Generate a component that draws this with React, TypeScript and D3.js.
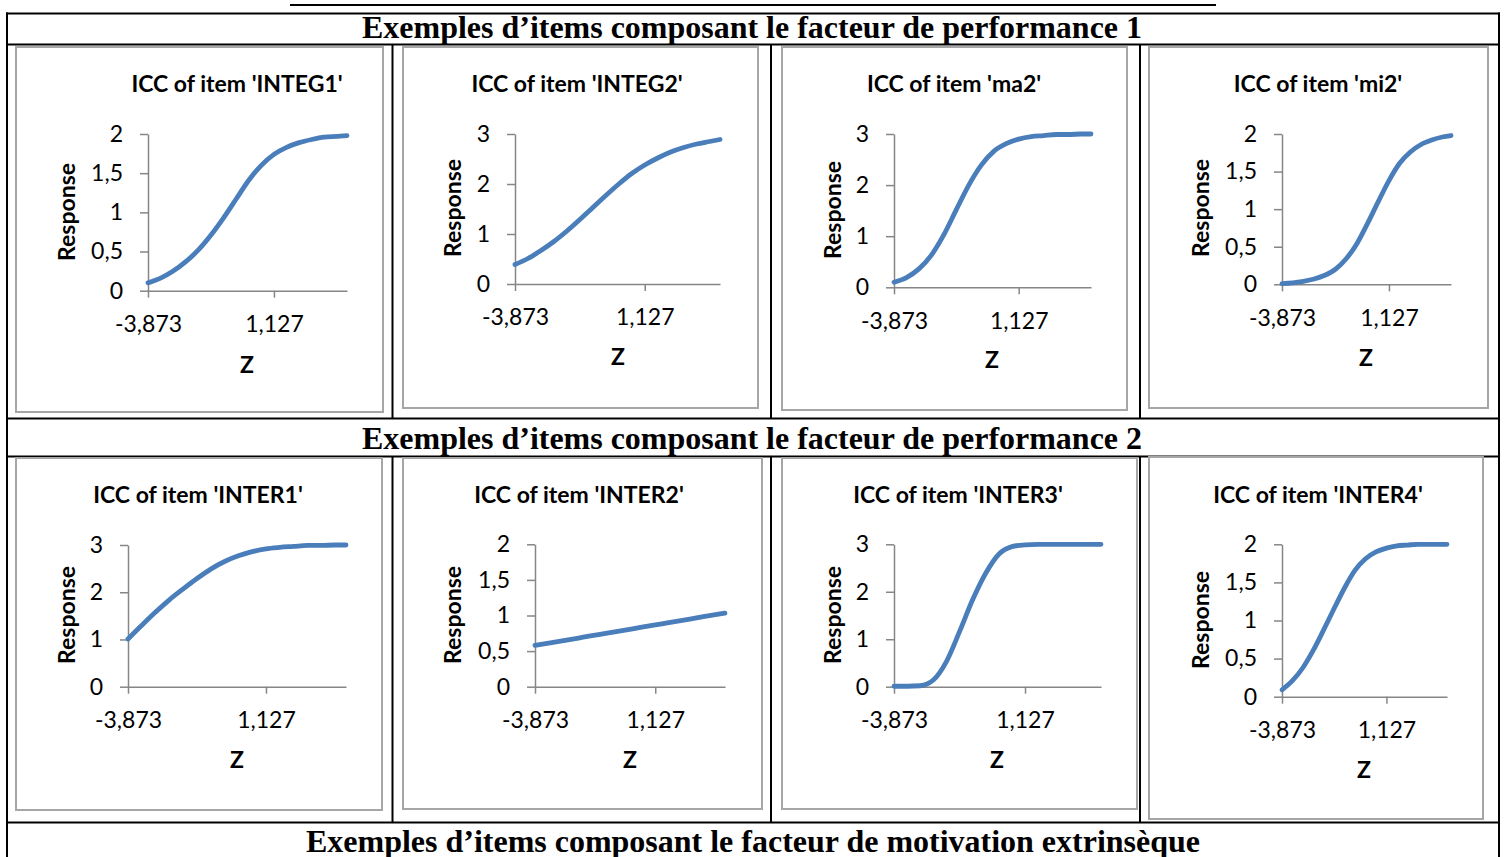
import { useEffect, useRef } from "react";
import * as d3 from "d3";

// z categories (x axis)
const zValues = [-3.873, -3.373, -2.873, -2.373, -1.873, -1.373, -0.873, -0.373, 0.127, 0.627, 1.127, 1.627, 2.127, 2.627, 3.127, 3.627, 4.027];
const xTickValues = [-3.873, 1.127];

// expected responses
const integ1 = [0.10, 0.16, 0.25, 0.37, 0.52, 0.71, 0.93, 1.17, 1.41, 1.60, 1.74, 1.83, 1.89, 1.93, 1.96, 1.97, 1.98];
const integ2 = [0.39, 0.51, 0.67, 0.85, 1.06, 1.29, 1.53, 1.77, 2.00, 2.21, 2.38, 2.52, 2.64, 2.73, 2.80, 2.85, 2.89];
const ma2 = [0.10, 0.19, 0.36, 0.63, 1.03, 1.52, 2.00, 2.39, 2.66, 2.81, 2.90, 2.95, 2.97, 2.99, 2.99, 3.00, 3.00];
const mi2 = [0.01, 0.02, 0.04, 0.07, 0.12, 0.20, 0.34, 0.54, 0.81, 1.10, 1.38, 1.61, 1.76, 1.86, 1.92, 1.96, 1.98];
const inter1 = [1.01, 1.30, 1.58, 1.84, 2.07, 2.29, 2.49, 2.65, 2.77, 2.86, 2.92, 2.95, 2.97, 2.99, 2.99, 3.00, 3.00];
const inter2 = [0.580, 0.609, 0.638, 0.666, 0.695, 0.724, 0.753, 0.781, 0.810, 0.839, 0.868, 0.896, 0.925, 0.954, 0.983, 1.011, 1.034];
const inter3 = [0.01, 0.01, 0.02, 0.14, 0.53, 1.16, 1.83, 2.39, 2.79, 2.95, 2.99, 3.00, 3.00, 3.00, 3.00, 3.00, 3.00];
const inter4 = [0.09, 0.21, 0.38, 0.61, 0.88, 1.16, 1.43, 1.66, 1.81, 1.90, 1.95, 1.98, 1.99, 2.00, 2.00, 2.00, 2.00];

const ticksHalf = [0, 0.5, 1, 1.5, 2];
const ticksOne = [0, 1, 2, 3];

const itemNames = ["INTEG1", "INTEG2", "ma2", "mi2", "INTER1", "INTER2", "INTER3", "INTER4"];
const itemSeries = [integ1, integ2, ma2, mi2, inter1, inter2, inter3, inter4];
const itemMax = [2, 3, 3, 2, 3, 2, 3, 2];

const headers = [
  "Exemples d\u2019items composant le facteur de performance 1",
  "Exemples d\u2019items composant le facteur de performance 2",
  "Exemples d\u2019items composant le facteur de motivation extrins\u00e8que",
];

// layout of each small chart inside the table (frame + plot box + label spots)
const layouts = [
  { frame: [16, 47, 383, 412], plot: [148, 134, 347, 290.7], title: [237, 92], z: [247, 373], resp: [67, 212] },
  { frame: [403, 47, 758, 408], plot: [515, 134, 720, 284], title: [577, 92], z: [618, 365], resp: [453, 208] },
  { frame: [782, 47, 1127, 410], plot: [894, 134, 1091, 287.3], title: [954, 92], z: [992, 368], resp: [833, 210] },
  { frame: [1149, 47, 1488, 408], plot: [1282, 134, 1451, 284.3], title: [1318, 92], z: [1366, 366], resp: [1201, 208] },
  { frame: [16, 458, 382, 810], plot: [128, 545, 346, 686.7], title: [198, 503], z: [237, 768], resp: [67, 615] },
  { frame: [403, 458, 762, 809], plot: [535, 544.3, 725, 686.7], title: [579, 503], z: [630, 768], resp: [453, 615] },
  { frame: [782, 458, 1137, 809], plot: [894, 544.3, 1101, 686.7], title: [958, 503], z: [997, 768], resp: [833, 615] },
  { frame: [1149, 457, 1483, 819], plot: [1282, 544.3, 1447, 696.7], title: [1318, 503], z: [1364, 778], resp: [1201, 620] },
];

const fmt = (d: number) => String(d).replace(".", ",");

const App = () => {
  const ref = useRef<SVGSVGElement>(null);

  useEffect(() => {
    const svg = d3.select(ref.current);
    svg.selectAll("*").remove();

    const chartFont = "Lato, 'Open Sans', sans-serif";
    const fontSize = 23;
    const axisColor = "#868686";
    const lineColor = "#4A7EBB";

    // partial line of the previous row (cut at the top)
    svg.append("line").attr("x1", 290).attr("x2", 1216).attr("y1", 5).attr("y2", 5)
      .attr("stroke", "#000").attr("stroke-width", 2);

    // table borders
    const hLines = [13.5, 44.5, 418.5, 456.5, 822.5];
    hLines.forEach(y => {
      svg.append("line").attr("x1", 6).attr("x2", 1500).attr("y1", y).attr("y2", y)
        .attr("stroke", "#000").attr("stroke-width", 2);
    });
    [7, 1499].forEach(x => {
      svg.append("line").attr("x1", x).attr("x2", x).attr("y1", 12.5).attr("y2", 857)
        .attr("stroke", "#000").attr("stroke-width", 2);
    });
    const colX = [392.5, 771, 1140];
    [[44.5, 418.5], [456.5, 822.5]].forEach(([y1, y2]) => {
      colX.forEach(x => {
        svg.append("line").attr("x1", x).attr("x2", x).attr("y1", y1).attr("y2", y2)
          .attr("stroke", "#000").attr("stroke-width", 2);
      });
    });

    // header rows
    const headerPos = [
      { y: 38, x0: 362, x1: 1142 },
      { y: 449, x0: 362, x1: 1142 },
      { y: 852, x0: 306, x1: 1200 },
    ];
    headers.forEach((h, i) => {
      const p = headerPos[i];
      svg.append("text")
        .attr("x", p.x0)
        .attr("y", p.y)
        .attr("font-family", "'Liberation Serif', 'Times New Roman', serif")
        .attr("font-weight", "bold")
        .attr("font-size", 32)
        .attr("textLength", p.x1 - p.x0)
        .attr("lengthAdjust", "spacingAndGlyphs")
        .attr("fill", "#000")
        .text(h);
    });

    // the eight ICC charts
    itemNames.forEach((name, i) => {
      const L = layouts[i];
      const [fx0, fy0, fx1, fy1] = L.frame;
      const [px0, py0, px1, py1] = L.plot;
      const g = svg.append("g");

      g.append("rect")
        .attr("x", fx0).attr("y", fy0)
        .attr("width", fx1 - fx0).attr("height", fy1 - fy0)
        .attr("fill", "#fff")
        .attr("stroke", "#a6a6a6")
        .attr("stroke-width", 2);

      const x = d3.scaleLinear().domain([zValues[0], zValues[zValues.length - 1]]).range([px0, px1]);
      const y = d3.scaleLinear().domain([0, itemMax[i]]).range([py1, py0]);
      const yTicks = itemMax[i] === 2 ? ticksHalf : ticksOne;

      const yAxis = g.append("g")
        .attr("transform", `translate(${px0},0)`)
        .call(d3.axisLeft(y).tickValues(yTicks).tickSize(8).tickSizeOuter(0).tickPadding(17).tickFormat(d => fmt(d as number)));

      const xAxis = g.append("g")
        .attr("transform", `translate(0,${py1})`)
        .call(d3.axisBottom(x).tickValues(xTickValues).tickSize(7).tickSizeOuter(0).tickPadding(18).tickFormat(d => fmt(d as number)));

      [yAxis, xAxis].forEach(a => {
        a.select(".domain").attr("stroke", axisColor).attr("stroke-width", 1.5);
        a.selectAll(".tick line").attr("stroke", axisColor).attr("stroke-width", 1.5);
        a.selectAll(".tick text")
          .attr("fill", "#000")
          .attr("font-family", chartFont)
          .attr("font-size", fontSize);
      });

      const points = zValues.map((z, k) => ({ z, v: itemSeries[i][k] }));
      const line = d3.line<{ z: number; v: number }>()
        .x(d => x(d.z))
        .y(d => y(d.v))
        .curve(d3.curveMonotoneX);

      g.append("path")
        .datum(points)
        .attr("d", line)
        .attr("fill", "none")
        .attr("stroke", lineColor)
        .attr("stroke-width", 4.8)
        .attr("stroke-linecap", "round");

      // title
      g.append("text")
        .attr("x", L.title[0]).attr("y", L.title[1])
        .attr("text-anchor", "middle")
        .attr("font-family", chartFont)
        .attr("font-weight", "bold")
        .attr("font-size", fontSize)
        .text(`ICC of item '${name}'`);

      // axis titles
      g.append("text")
        .attr("x", L.z[0]).attr("y", L.z[1])
        .attr("text-anchor", "middle")
        .attr("font-family", chartFont)
        .attr("font-weight", "bold")
        .attr("font-size", fontSize)
        .text("Z");

      g.append("text")
        .attr("transform", `translate(${L.resp[0]},${L.resp[1]}) rotate(-90)`)
        .attr("text-anchor", "middle")
        .attr("dy", "0.35em")
        .attr("font-family", chartFont)
        .attr("font-weight", "bold")
        .attr("font-size", fontSize)
        .text("Response");
    });
  }, []);

  return (
    <svg
      ref={ref}
      width={1504}
      height={857}
      style={{ position: "absolute", left: 0, top: 0, background: "#fff" }}
    />
  );
};

export default App;
